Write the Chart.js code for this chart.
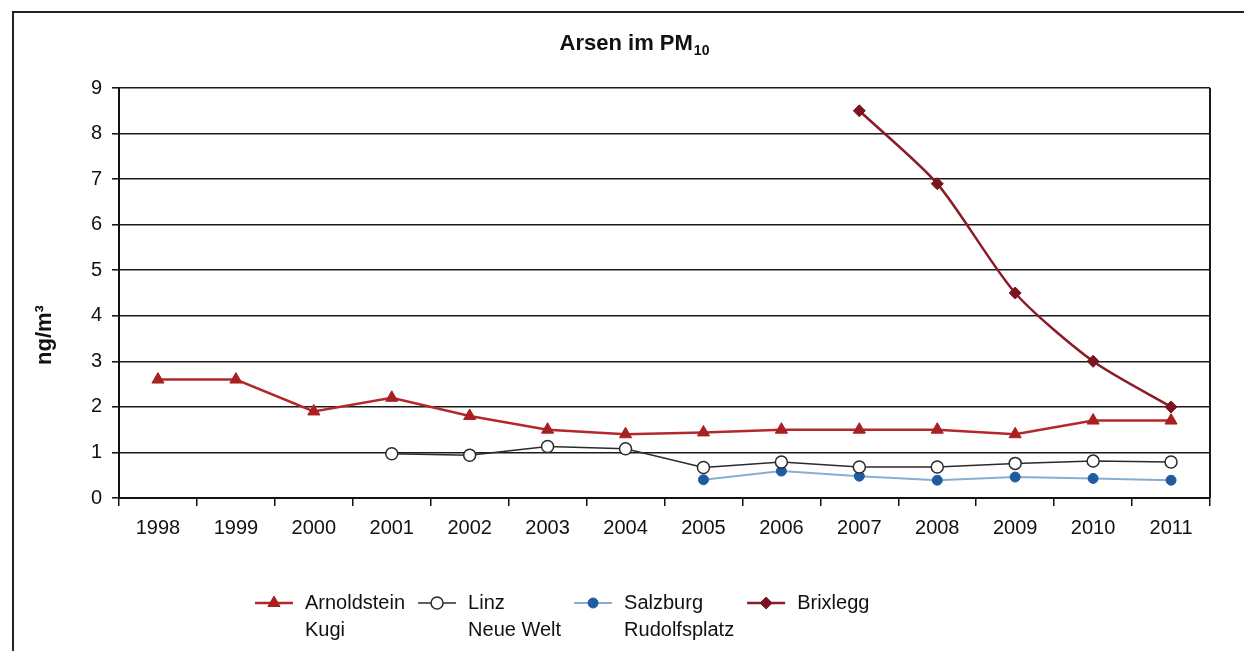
<!DOCTYPE html>
<html>
<head>
<meta charset="utf-8">
<title>Arsen im PM10</title>
<script src="https://cdn.jsdelivr.net/npm/chart.js@4.4.1/dist/chart.umd.min.js"></script>
<style>
  body{margin:0;background:#fff;}
  #box{width:1244px;height:651px;position:relative;}
</style>
</head>
<body>
<div id="box"><canvas id="arsenchart"></canvas></div>
<script>
// values, ng/m3
const years = ['1998','1999','2000','2001','2002','2003','2004','2005','2006','2007','2008','2009','2010','2011'];
const arnoldstein = [2.6, 2.6, 1.9, 2.2, 1.8, 1.5, 1.4, 1.44, 1.5, 1.5, 1.5, 1.4, 1.7, 1.7];
const linz = [null, null, null, 0.97, 0.94, 1.13, 1.08, 0.67, 0.79, 0.68, 0.68, 0.76, 0.81, 0.79];
const salzburg = [null, null, null, null, null, null, null, 0.4, 0.59, 0.48, 0.39, 0.46, 0.43, 0.39];
const brixlegg = [null, null, null, null, null, null, null, null, null, 8.5, 6.9, 4.5, 3.0, 2.0];
const legendtexts = [['Arnoldstein', 'Kugi'], ['Linz', 'Neue Welt'], ['Salzburg', 'Rudolfsplatz'], ['Brixlegg']];

const fontfam = '"Liberation Sans", Arial, Helvetica, sans-serif';
let chart = document.getElementById('arsenchart');

//frame, plot border, title, y label and the two-line legend
const decoPlugin = {
    id: 'deco',
    beforeDraw(c){
        let ctx = c.ctx;
        ctx.save();
        ctx.strokeStyle = '#222';
        ctx.lineWidth = 2;
        ctx.beginPath();
        ctx.moveTo(13, 651);
        ctx.lineTo(13, 12);
        ctx.lineTo(1244, 12);
        ctx.stroke();
        ctx.restore();
    },
    afterDraw(c){
        let ctx = c.ctx;
        let area = c.chartArea;
        ctx.save();

        ctx.strokeStyle = '#1a1a1a';
        ctx.lineWidth = 2;
        ctx.beginPath();
        ctx.moveTo(area.right, area.top);
        ctx.lineTo(area.right, area.bottom);
        ctx.stroke();

        // title with subscript
        ctx.fillStyle = '#111';
        ctx.textBaseline = 'alphabetic';
        ctx.font = 'bold 22px ' + fontfam;
        let main = 'Arsen im PM';
        let w1 = ctx.measureText(main).width;
        ctx.font = 'bold 14px ' + fontfam;
        let w2 = ctx.measureText('10').width;
        let tx = 634 - (w1 + w2) / 2;
        ctx.font = 'bold 22px ' + fontfam;
        ctx.textAlign = 'left';
        ctx.fillText(main, tx, 50);
        ctx.font = 'bold 14px ' + fontfam;
        ctx.fillText('10', tx + w1 + 1, 55);

        // y axis title
        ctx.save();
        ctx.translate(45, 335);
        ctx.rotate(-Math.PI / 2);
        ctx.font = 'bold 22px ' + fontfam;
        ctx.textAlign = 'center';
        ctx.textBaseline = 'middle';
        ctx.fillText('ng/m³', 0, 0);
        ctx.restore();

        // legend
        let x = 255;
        let y = 603;
        ctx.font = '20px ' + fontfam;
        ctx.textBaseline = 'middle';
        ctx.textAlign = 'left';
        c.data.datasets.forEach(function(ds, i){
            ctx.strokeStyle = ds.borderColor;
            ctx.lineWidth = ds.borderWidth;
            ctx.beginPath();
            ctx.moveTo(x, y);
            ctx.lineTo(x + 38, y);
            ctx.stroke();
            ctx.fillStyle = ds.pointBackgroundColor;
            ctx.strokeStyle = ds.pointBorderColor;
            ctx.lineWidth = ds.pointBorderWidth;
            Chart.helpers.drawPoint(ctx, {pointStyle: ds.pointStyle, radius: ds.pointRadius, rotation: 0, borderWidth: ds.pointBorderWidth}, x + 19, y);
            ctx.fillStyle = '#111';
            let widest = 0;
            legendtexts[i].forEach(function(line, k){
                ctx.fillText(line, x + 50, y + k * 27);
                widest = Math.max(widest, ctx.measureText(line).width);
            });
            x = x + 50 + widest + 13;
        });

        ctx.restore();
    }
};

let arsenChart = new Chart(chart, {
    type: 'line',
    data: {
        labels: years,
        datasets: [{
            label: 'Arnoldstein Kugi',
            data: arnoldstein,
            borderColor: '#b3292b',
            borderWidth: 2.5,
            pointStyle: 'triangle',
            pointRadius: 7,
            pointBackgroundColor: '#a82022',
            pointBorderColor: '#a82022',
            pointBorderWidth: 1,
            tension: 0
        },{
            label: 'Linz Neue Welt',
            data: linz,
            borderColor: '#2b2b2b',
            borderWidth: 1.5,
            pointStyle: 'circle',
            pointRadius: 6,
            pointBackgroundColor: '#ffffff',
            pointBorderColor: '#2b2b2b',
            pointBorderWidth: 1.5,
            tension: 0
        },{
            label: 'Salzburg Rudolfsplatz',
            data: salzburg,
            borderColor: '#86aed0',
            borderWidth: 2,
            pointStyle: 'circle',
            pointRadius: 5,
            pointBackgroundColor: '#1f5c9e',
            pointBorderColor: '#1f5c9e',
            pointBorderWidth: 1,
            tension: 0
        },{
            label: 'Brixlegg',
            data: brixlegg,
            borderColor: '#8a1c28',
            borderWidth: 2.5,
            pointStyle: 'rectRot',
            pointRadius: 6,
            pointBackgroundColor: '#7a1420',
            pointBorderColor: '#7a1420',
            pointBorderWidth: 1,
            tension: 0.25
        }]
    },
    options: {
        responsive: true,
        maintainAspectRatio: false,
        animation: false,
        layout: {
            padding: {top: 88, right: 34, bottom: 100, left: 0}
        },
        plugins: {
            legend: {display: false},
            title: {display: false},
            tooltip: {enabled: false}
        },
        scales: {
            x: {
                offset: true,
                grid: {offset: true, drawOnChartArea: false, drawTicks: true, tickLength: 8, color: '#111', lineWidth: 1.5},
                border: {color: '#111', width: 2},
                ticks: {color: '#111', font: {size: 20, family: fontfam}, padding: 10, maxRotation: 0, autoSkip: false},
                afterFit(scale){ scale.height = 53; }
            },
            y: {
                min: 0,
                max: 9,
                ticks: {stepSize: 1, color: '#111', font: {size: 20, family: fontfam}, padding: 10},
                grid: {color: '#1a1a1a', lineWidth: 1.6, tickLength: 7},
                border: {color: '#111', width: 2},
                afterFit(scale){ scale.width = 119; }
            }
        }
    },
    plugins: [decoPlugin]
});
</script>
</body>
</html>
